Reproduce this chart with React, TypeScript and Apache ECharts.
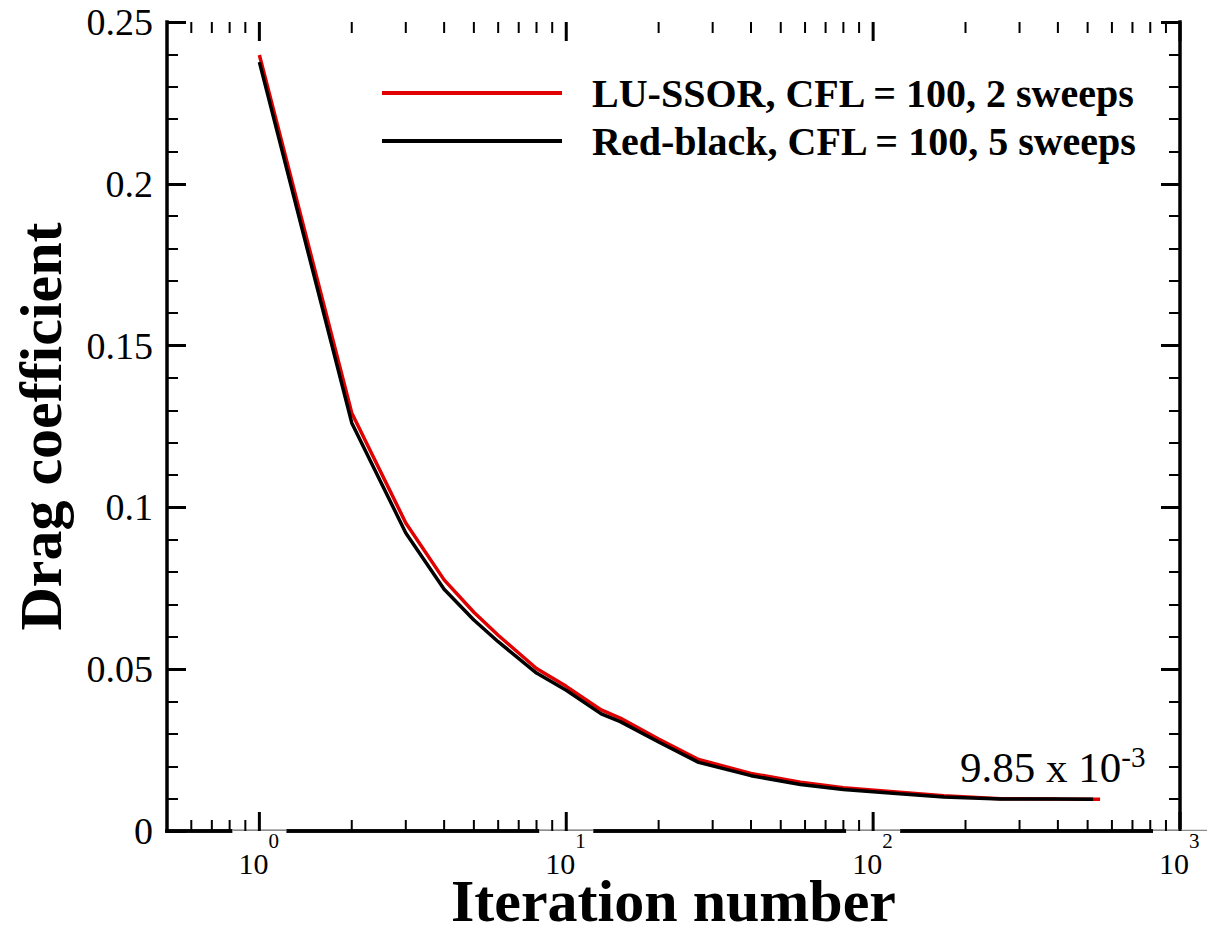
import React, { useEffect, useRef } from "react";
import * as echarts from "echarts";

// ---- data ----
const luIter = [1, 2, 3, 4, 5, 6, 8, 10, 13, 15, 20, 27, 40, 58, 80, 122, 170, 260, 400, 549];
const luCd = [0.2398, 0.1292, 0.0952, 0.0776, 0.0676, 0.0605, 0.0502, 0.0447, 0.0374, 0.0349, 0.0284, 0.0221, 0.0178, 0.0151, 0.0134, 0.0120, 0.0109, 0.00995, 0.00988, 0.00985];
const rbIter = [1, 2, 3, 4, 5, 6, 8, 10, 13, 15, 20, 27, 40, 58, 80, 122, 170, 260, 400, 521];
const rbCd = [0.2376, 0.1261, 0.0921, 0.0747, 0.0652, 0.0585, 0.0488, 0.0435, 0.0362, 0.0338, 0.0275, 0.0212, 0.0171, 0.0144, 0.0128, 0.0115, 0.0105, 0.0099, 0.00986, 0.00985];

const seriesNames = ["LU-SSOR, CFL = 100, 2 sweeps", "Red-black, CFL = 100, 5 sweeps"];
const xMajorTicks = [1, 10, 100, 1000];
const xMinorTicks = [0.6, 0.7, 0.8, 0.9, 2, 3, 4, 5, 6, 7, 8, 9, 20, 30, 40, 50, 60, 70, 80, 90, 200, 300, 400, 500, 600, 700, 800, 900];
const xMin = 0.5;
const xMax = 1000;
const yMin = 0;
const yMax = 0.25;
const yStep = 0.05;
const annotation = { base: "9.85 x 10", exp: "-3" };

const FONT = "Liberation Serif";

export default function App() {
  const ref = useRef<HTMLDivElement>(null);

  useEffect(() => {
    if (!ref.current) return;
    const chart = echarts.init(ref.current, undefined, { renderer: "svg" });

    const frameLine = { show: true, lineStyle: { color: "#000", width: 3.5, cap: "square" } };
    const logAxis = (extra: any) => ({
      type: "log",
      logBase: 10,
      min: xMin,
      max: xMax,
      axisLine: frameLine,
      axisTick: { show: false },
      axisLabel: { show: false },
      splitLine: { show: false },
      ...extra,
    });
    const yAxisBase = {
      type: "value",
      min: yMin,
      max: yMax,
      interval: yStep,
      axisLine: frameLine,
      axisTick: { show: true, inside: true, length: 19, lineStyle: { color: "#000", width: 3 } },
      minorTick: { show: true, splitNumber: 5, length: 11, lineStyle: { color: "#000", width: 2 } },
      splitLine: { show: false },
    };

    const tickData = [
      ...xMajorTicks.map((v) => [v, 1]),
      ...xMinorTicks.map((v) => [v, 0]),
    ];

    const annotationGraphic = {
      type: "text",
      id: "annot",
      x: 960,
      y: 742,
      z: 7,
      style: {
        text: `{a|${annotation.base}}{e|${annotation.exp}}`,
        verticalAlign: "top",
        rich: {
          a: { fontFamily: FONT, fontSize: 43, lineHeight: 43, padding: [4, 0, 0, 0], verticalAlign: "top", fill: "#000" },
          e: { fontFamily: FONT, fontSize: 29, lineHeight: 29, verticalAlign: "top", fill: "#000" },
        },
      },
    };

    const option: any = {
      animation: false,
      textStyle: { fontFamily: FONT, color: "#000" },
      grid: { left: 167, right: 41, top: 22, bottom: 106, containLabel: false },
      legend: {
        data: seriesNames,
        orient: "vertical",
        left: 382,
        top: 73,
        padding: 0,
        icon: "rect",
        itemWidth: 180,
        itemHeight: 4,
        itemGap: 8,
        textStyle: {
          fontFamily: FONT,
          fontSize: 40,
          fontWeight: "bold",
          color: "#000",
          lineHeight: 40,
          padding: [0, 0, 0, 25],
        },
      },
      xAxis: [
        logAxis({
          position: "bottom",
          name: "Iteration number",
          nameLocation: "middle",
          nameGap: 45,
          nameTextStyle: { fontFamily: FONT, fontSize: 60, lineHeight: 50, fontWeight: "bold", color: "#000" },
        }),
        logAxis({ position: "top" }),
      ],
      yAxis: [
        {
          ...yAxisBase,
          position: "left",
          axisLabel: { fontFamily: FONT, fontSize: 38, color: "#000", margin: 14 },
          name: "Drag coefficient",
          nameLocation: "middle",
          nameGap: 96,
          nameTextStyle: { fontFamily: FONT, fontSize: 60, fontWeight: "bold", color: "#000" },
        },
        {
          ...yAxisBase,
          position: "right",
          axisLabel: { show: false },
        },
      ],
      series: [
        {
          name: seriesNames[0],
          type: "line",
          xAxisIndex: 0,
          yAxisIndex: 0,
          symbol: "none",
          color: "#e00000",
          lineStyle: { color: "#e00000", width: 3.5 },
          data: luIter.map((x, i) => [x, luCd[i]]),
          z: 3,
        },
        {
          name: seriesNames[1],
          type: "line",
          xAxisIndex: 0,
          yAxisIndex: 0,
          symbol: "none",
          color: "#000",
          lineStyle: { color: "#000", width: 3.5 },
          data: rbIter.map((x, i) => [x, rbCd[i]]),
          z: 4,
        },
        {
          name: "xticks",
          type: "custom",
          xAxisIndex: 0,
          yAxisIndex: 0,
          silent: true,
          clip: false,
          z: 6,
          data: tickData,
          renderItem: (params: any, api: any) => {
            const v = api.value(0);
            const major = api.value(1) === 1;
            const len = major ? 19 : 11;
            const w = major ? 3 : 2;
            const b = api.coord([v, yMin]);
            const t = api.coord([v, yMax]);
            return {
              type: "group",
              children: [
                { type: "line", shape: { x1: b[0], y1: b[1], x2: b[0], y2: b[1] - len }, style: { stroke: "#000", lineWidth: w } },
                { type: "line", shape: { x1: t[0], y1: t[1], x2: t[0], y2: t[1] + len }, style: { stroke: "#000", lineWidth: w } },
              ],
            };
          },
        },
      ],
      graphic: [annotationGraphic],
    };

    chart.setOption(option);

    // x-axis tick labels (10^n), placed through the axis' own log scale
    const labelGraphics: any[] = [];
    xMajorTicks.forEach((v, i) => {
      const p = chart.convertToPixel({ gridIndex: 0 } as any, [v, yMin]) as number[];
      const r = Math.round(Math.log10(v));
      labelGraphics.push(
        { type: "rect", id: `lbg${i}`, z: 3, shape: { x: p[0] - 27, y: p[1] - 1.7, width: 54, height: 40 }, style: { fill: "#fff" } },
        { type: "line", id: `lln${i}`, z: 3, shape: { x1: p[0] - 27, y1: p[1] - 0.6, x2: p[0] + 27, y2: p[1] - 0.6 }, style: { stroke: "#8c8c8c", lineWidth: 1.4 } },
        {
          type: "text",
          id: `ltx${i}`,
          z: 7,
          x: p[0] - 21,
          y: p[1] - 0.5,
          style: {
            text: `{a|10}{e|${r}}`,
            verticalAlign: "top",
            rich: {
              a: { fontFamily: FONT, fontSize: 30, lineHeight: 26, padding: [18, 0, 0, 0], verticalAlign: "top", fill: "#000" },
              e: { fontFamily: FONT, fontSize: 21, lineHeight: 21, verticalAlign: "top", fill: "#000" },
            },
          },
        }
      );
    });
    chart.setOption({ graphic: [annotationGraphic, ...labelGraphics] });

    return () => chart.dispose();
  }, []);

  return <div ref={ref} style={{ position: "absolute", left: 0, top: 0, width: 1221, height: 937 }} />;
}
